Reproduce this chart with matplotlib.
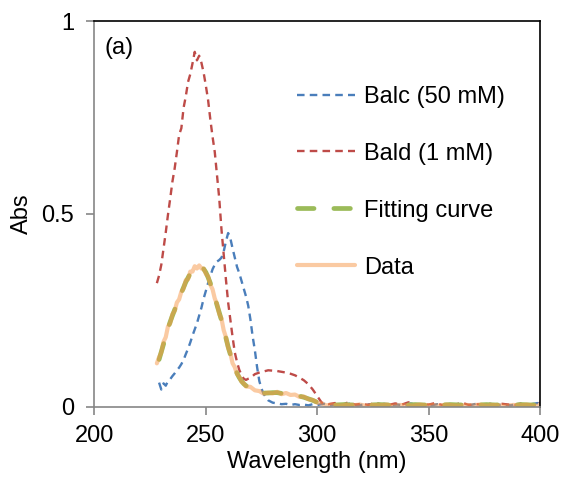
import matplotlib.pyplot as plt

plt.rcParams['font.family'] = ['Liberation Sans', 'DejaVu Sans']

# Balc (50 mM), blue dashed
wl_balc = [229, 230, 231, 232, 233, 234, 235, 236, 237, 238, 239, 240, 241, 242,
           243, 244, 245, 246, 247, 248, 249, 250, 251, 252, 253, 254, 255, 256,
           257, 258, 259, 260, 261, 262, 263, 264, 265, 266, 267, 268, 269, 270,
           271, 272, 273, 274, 275, 276, 278, 280, 282, 284, 286, 288, 290, 292,
           294, 296, 298, 300, 303, 306, 309, 312, 315, 318, 321, 324, 327, 330,
           333, 336, 339, 342, 345, 348, 351, 354, 357, 360, 363, 366, 369, 372,
           375, 378, 381, 384, 387, 390, 393, 396, 399, 400]
abs_balc = [0.062, 0.044, 0.060, 0.054, 0.066, 0.071, 0.079, 0.086, 0.094, 0.101,
            0.110, 0.121, 0.136, 0.150, 0.166, 0.184, 0.200, 0.216, 0.236, 0.256,
            0.280, 0.300, 0.320, 0.338, 0.356, 0.368, 0.376, 0.380, 0.386, 0.402,
            0.428, 0.450, 0.436, 0.410, 0.386, 0.362, 0.346, 0.326, 0.306, 0.286,
            0.262, 0.226, 0.182, 0.146, 0.102, 0.066, 0.046, 0.032, 0.016, 0.010,
            0.008, 0.006, 0.007, 0.004, 0.006, 0.004, 0.005, 0.003, 0.006, 0.004,
            0.007, 0.003, 0.006, 0.004, 0.008, 0.003, 0.005, 0.006, 0.003, 0.007,
            0.004, 0.005, 0.003, 0.008, 0.004, 0.005, 0.003, 0.006, 0.004, 0.007,
            0.003, 0.005, 0.004, 0.008, 0.003, 0.006, 0.004, 0.005, 0.003, 0.007,
            0.004, 0.006, 0.009, 0.005]

# Bald (1 mM), red dashed
wl_bald = [228, 229, 230, 231, 232, 233, 234, 235, 236, 237, 238, 239, 240, 241,
           242, 243, 244, 245, 246, 247, 248, 249, 250, 251, 252, 253, 254, 255,
           256, 257, 258, 259, 260, 261, 262, 263, 264, 265, 266, 267, 268, 269,
           270, 272, 274, 276, 278, 280, 282, 284, 286, 288, 290, 292, 294, 296,
           298, 300, 302, 305, 308, 311, 314, 317, 320, 323, 326, 329, 332, 335,
           338, 341, 344, 347, 350, 353, 356, 359, 362, 365, 368, 371, 374, 377,
           380, 383, 386, 389, 392, 395, 398, 400]
abs_bald = [0.320, 0.340, 0.368, 0.410, 0.452, 0.498, 0.540, 0.584, 0.618, 0.660,
            0.705, 0.722, 0.775, 0.805, 0.842, 0.862, 0.890, 0.920, 0.898, 0.910,
            0.892, 0.866, 0.832, 0.795, 0.745, 0.700, 0.660, 0.600, 0.540, 0.460,
            0.395, 0.330, 0.270, 0.225, 0.180, 0.140, 0.115, 0.095, 0.082, 0.072,
            0.069, 0.072, 0.074, 0.084, 0.088, 0.091, 0.094, 0.093, 0.092, 0.090,
            0.088, 0.085, 0.081, 0.075, 0.068, 0.058, 0.044, 0.027, 0.010, 0.006,
            0.009, 0.004, 0.011, 0.005, 0.007, 0.004, 0.010, 0.005, 0.004, 0.008,
            0.005, 0.011, 0.004, 0.006, 0.005, 0.009, 0.004, 0.006, 0.005, 0.010,
            0.004, 0.006, 0.005, 0.008, 0.004, 0.007, 0.005, 0.004, 0.009, 0.005,
            0.004, 0.010]

# fitting curve (green, long dashes) and measured data (orange, solid)
wl_fit = [229, 230, 231, 232, 233, 234, 235, 236, 237, 238, 239, 240, 241, 242,
          243, 244, 245, 246, 247, 248, 249, 250, 251, 252, 253, 254, 255, 256,
          257, 258, 259, 260, 261, 262, 263, 264, 265, 266, 267, 268, 270, 272,
          274, 276, 278, 280, 282, 284, 286, 288, 290, 292, 294, 296, 298, 300,
          302, 304, 308, 312, 316, 320, 324, 328, 332, 336, 340, 344, 348, 352,
          356, 360, 364, 368, 372, 376, 380, 384, 388, 392, 396, 400]
abs_fit = [0.122, 0.142, 0.162, 0.183, 0.203, 0.220, 0.236, 0.251, 0.266, 0.281,
           0.295, 0.309, 0.323, 0.334, 0.345, 0.354, 0.360, 0.363, 0.364, 0.362,
           0.357, 0.348, 0.335, 0.320, 0.302, 0.284, 0.263, 0.244, 0.224, 0.201,
           0.178, 0.155, 0.135, 0.116, 0.100, 0.086, 0.075, 0.066, 0.059, 0.054,
           0.049, 0.044, 0.039, 0.035, 0.035, 0.036, 0.036, 0.034, 0.033, 0.031,
           0.029, 0.027, 0.024, 0.020, 0.016, 0.011, 0.007, 0.005, 0.004, 0.005,
           0.004, 0.005, 0.004, 0.005, 0.004, 0.005, 0.004, 0.005, 0.004, 0.005,
           0.004, 0.005, 0.004, 0.005, 0.004, 0.005, 0.004, 0.005, 0.004, 0.005,
           0.004, 0.005]

wl_data = [228, 229, 230, 231, 232, 233, 234, 235, 236, 237, 238, 239, 240, 241,
           242, 243, 244, 245, 246, 247, 248, 249, 250, 251, 252, 253, 254, 255,
           256, 257, 258, 259, 260, 261, 262, 263, 264, 265, 266, 267, 268, 270,
           272, 274, 276, 278, 280, 282, 284, 286, 288, 290, 292, 294, 296, 298,
           300, 302, 304, 307, 310, 313, 316, 319, 322, 325, 328, 331, 334, 337,
           340, 343, 346, 349, 352, 355, 358, 361, 364, 367, 370, 373, 376, 379,
           382, 385, 388, 391, 394, 397, 400]
abs_data = [0.112, 0.128, 0.140, 0.168, 0.180, 0.208, 0.216, 0.240, 0.248, 0.270,
            0.278, 0.298, 0.306, 0.328, 0.330, 0.350, 0.350, 0.364, 0.358, 0.366,
            0.358, 0.358, 0.344, 0.338, 0.316, 0.304, 0.280, 0.266, 0.240, 0.228,
            0.198, 0.180, 0.152, 0.138, 0.112, 0.102, 0.084, 0.077, 0.064, 0.060,
            0.052, 0.051, 0.042, 0.040, 0.033, 0.036, 0.034, 0.038, 0.032, 0.035,
            0.030, 0.031, 0.025, 0.026, 0.019, 0.017, 0.010, 0.008, 0.003, 0.005,
            0.002, 0.004, 0.003, 0.005, 0.002, 0.004, 0.003, 0.005, 0.002, 0.004,
            0.003, 0.002, 0.005, 0.003, 0.004, 0.002, 0.005, 0.003, 0.002, 0.004,
            0.003, 0.005, 0.002, 0.004, 0.003, 0.002, 0.004, 0.003, 0.005, 0.002,
            0.003]

fig = plt.figure(figsize=(5.79, 4.80), dpi=100)
ax = fig.add_axes([0.1632, 0.1531, 0.7694, 0.8031])

ax.plot(wl_balc, abs_balc, color='#4A7EBB', lw=1.7, dashes=(3.2, 2.2),
        label='Balc (50 mM)')
ax.plot(wl_bald, abs_bald, color='#BE4B48', lw=1.7, dashes=(3.2, 2.2),
        label='Bald (1 mM)')
ax.plot(wl_fit, abs_fit, color='#9BBB59', lw=3.4, dashes=(3.5, 4.2),
        dash_capstyle='round', label='Fitting curve')
ax.plot(wl_data, abs_data, color='#F79646', alpha=0.5, lw=3.0,
        solid_capstyle='round', label='Data')

ax.set_xlim(200, 400)
ax.set_ylim(0, 1)
ax.set_xticks([200, 250, 300, 350, 400])
ax.set_yticks([0, 0.5, 1])
ax.set_yticklabels(['0', '0.5', '1'])

for side in ['left', 'bottom']:
    ax.spines[side].set_color('#868686')
    ax.spines[side].set_linewidth(1.2)
for side in ['top', 'right']:
    ax.spines[side].set_color('black')
    ax.spines[side].set_linewidth(1.2)
ax.tick_params(direction='out', length=5.5, width=1.2, color='#868686',
               labelsize=17)
ax.tick_params(axis='y', pad=9)
ax.tick_params(axis='x', pad=8)

ax.set_xlabel('Wavelength (nm)', fontsize=17, labelpad=3)
ax.set_ylabel('Abs', fontsize=17, labelpad=6)
ax.text(0.023, 0.93, '(a)', transform=ax.transAxes, fontsize=17,
        va='center', ha='left')

ax.legend(loc='upper left', bbox_to_anchor=(0.455, 0.832), frameon=False,
          fontsize=17, handlelength=2.46, handletextpad=0.38,
          labelspacing=1.48, borderpad=0, borderaxespad=0)

fig.savefig('out.png', dpi=100)
